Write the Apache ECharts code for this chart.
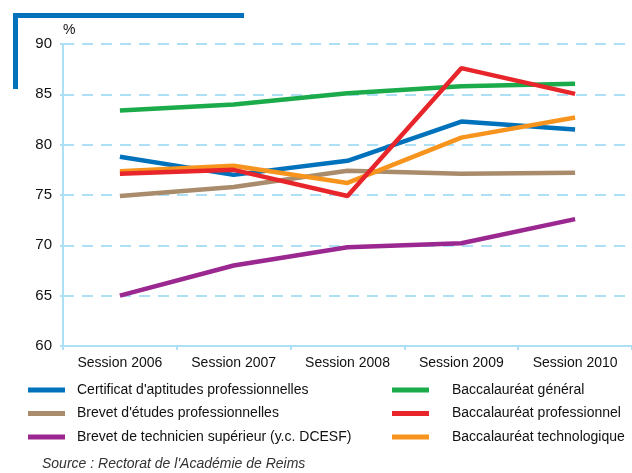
<!DOCTYPE html>
<html><head><meta charset="utf-8">
<script src="https://cdn.jsdelivr.net/npm/echarts@6/dist/echarts.min.js"></script>
<style>html,body{margin:0;padding:0;background:#fff}#c{width:632px;height:473px}</style>
</head><body><div id="c"></div>
<script>
var categories = ['Session 2006','Session 2007','Session 2008','Session 2009','Session 2010'];
var yTicks = [60,65,70,75,80,85,90];
var seriesNames = ["Certificat d'aptitudes professionnelles","Brevet d'études professionnelles","Brevet de technicien supérieur (y.c. DCESF)","Baccalauréat général","Baccalauréat professionnel","Baccalauréat technologique"];
var cap = [78.8, 77.0, 78.4, 82.3, 81.5];
var bep = [74.9, 75.8, 77.4, 77.1, 77.2];
var bts = [65.0, 68.0, 69.8, 70.2, 72.6];
var bacGen = [83.4, 84.0, 85.1, 85.8, 86.05];
var bacPro = [77.1, 77.5, 74.9, 87.6, 85.05];
var bacTech = [77.35, 77.9, 76.2, 80.7, 82.7];
var colors = ['#0071bb','#a88c6c','#9b2790','#1bab4a','#e8252a','#f7941d'];
var values = [cap, bep, bts, bacGen, bacPro, bacTech];
var font = 'Liberation Sans, Arial, sans-serif';
var chart = echarts.init(document.getElementById('c'));
var series = seriesNames.map(function(n,i){
  return {name:n,type:'line',data:values[i],symbol:'none',
    lineStyle:{width:4.5,color:colors[i]},itemStyle:{color:colors[i]},z:i===4?5:3};
});
var order = [3,1,0,5,4,2];
var orderedSeries = order.map(function(i){return series[i];});
function legendCfg(left, names, pad){
  return {orient:'vertical',left:left,top:383,padding:0,data:names,
    itemWidth:37,itemHeight:5,itemGap:9.5,icon:'rect',
    textStyle:{fontFamily:font,fontSize:14,lineHeight:14,color:'#111',padding:[0,0,0,pad]}};
}
chart.setOption({
  animation:false,
  grid:{left:63,right:0,top:44,bottom:127},
  xAxis:{type:'category',data:categories,boundaryGap:true,
    axisLine:{lineStyle:{color:'#aee0f5',width:2}},
    axisTick:{show:true,length:4,lineStyle:{color:'#aee0f5',width:2}},
    axisLabel:{fontFamily:font,fontSize:14,color:'#111',margin:10}},
  yAxis:{type:'value',min:yTicks[0],max:yTicks[yTicks.length-1],interval:5,
    name:'%',nameGap:7,nameTextStyle:{fontFamily:font,fontSize:14,color:'#111',align:'left',padding:[0,0,0,0]},
    axisLine:{show:true,lineStyle:{color:'#aee0f5',width:2}},
    axisTick:{show:true,length:3,lineStyle:{color:'#aee0f5',width:2}},
    axisLabel:{fontFamily:font,fontSize:15,color:'#111',margin:11},
    splitLine:{lineStyle:{color:'#aee0f5',width:2,type:[11,8]}}},
  legend:[
    legendCfg(28, seriesNames.slice(0,3), 7),
    legendCfg(392, seriesNames.slice(3,6), 18)
  ],
  graphic:[
    {type:'rect',shape:{x:13,y:13,width:231,height:5},style:{fill:'#0071bb'}},
    {type:'rect',shape:{x:13,y:13,width:5,height:76},style:{fill:'#0071bb'}},
    {type:'text',left:42,top:457,style:{text:"Source : Rectorat de l'Académie de Reims",font:'italic 14px '+font,fill:'#333'}}
  ],
  series:orderedSeries
});
</script></body></html>
